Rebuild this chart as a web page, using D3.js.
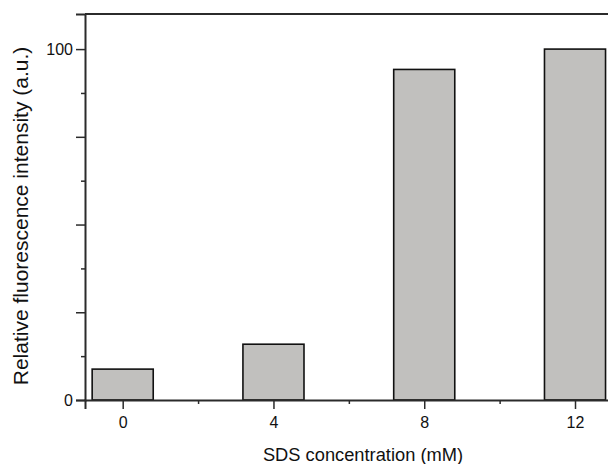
<!DOCTYPE html>
<html><head><meta charset="utf-8">
<script src="https://cdn.jsdelivr.net/npm/d3@7"></script>
<style>body{margin:0;background:#fff}svg{display:block;font-family:"Liberation Sans",Arial,sans-serif}</style>
</head><body><svg id="c" width="608" height="464"></svg>
<script>
const concentrations = [0, 4, 8, 12];
const intensity = [8.8, 15.9, 94.2, 100];
const xTickValues = [0, 4, 8, 12];
const xMinorTicks = [2, 6, 10];
const yMajorTicks = [0, 25, 50, 75, 100];
const yMinorTicks = [12.5, 37.5, 62.5, 87.5];
const yLabeled = [0, 100];

const svg = d3.select("#c");
const L = 85, R = 612.7, T = 14, B = 400;
const x = d3.scaleLinear().domain([-1, 13]).range([L, R]);
const y = d3.scaleLinear().domain([0, 110]).range([B, T]);
const barW = x(1.62) - x(0);

svg.selectAll("rect.bar").data(concentrations).join("rect")
  .attr("class","bar")
  .attr("x", (d)=>x(d)-barW/2)
  .attr("y", (d,i)=>y(intensity[i]))
  .attr("width", barW)
  .attr("height", (d,i)=>y(0)-y(intensity[i]))
  .attr("fill","#c1c0be").attr("stroke","#111").attr("stroke-width",1.6);

const axisColor = "#2b2b2b";
svg.append("line").attr("x1",L).attr("x2",R).attr("y1",T).attr("y2",T).attr("stroke",axisColor).attr("stroke-width",2);

svg.append("g").attr("transform",`translate(0,${B})`)
  .call(d3.axisBottom(x).tickValues(xTickValues).tickSize(9).tickPadding(8).tickFormat(d3.format("d")));
svg.append("g").attr("transform",`translate(0,${B})`)
  .call(d3.axisBottom(x).tickValues(xMinorTicks).tickSize(4).tickFormat(""))
  .call(g=>g.select(".domain").remove());
svg.append("g").attr("transform",`translate(${L},0)`)
  .call(d3.axisLeft(y).tickValues(yMajorTicks).tickSize(9).tickPadding(3)
    .tickFormat(d=>yLabeled.includes(d)?d3.format("d")(d):""));
svg.append("g").attr("transform",`translate(${L},0)`)
  .call(d3.axisLeft(y).tickValues(yMinorTicks).tickSize(4).tickFormat(""))
  .call(g=>g.select(".domain").remove());

svg.selectAll(".domain").attr("stroke",axisColor).attr("stroke-width",2);
svg.selectAll(".tick line").attr("stroke",axisColor).attr("stroke-width",1.5);
svg.selectAll(".tick text").attr("font-size",16).attr("fill","#111")
  .attr("font-family","'Liberation Sans',Arial,sans-serif");

svg.append("text").attr("x",363).attr("y",461).attr("text-anchor","middle")
  .attr("font-size",18.3).attr("fill","#111").text("SDS concentration (mM)");
svg.append("text").attr("transform","translate(28,216) rotate(-90)").attr("text-anchor","middle")
  .attr("font-size",21).attr("fill","#111").text("Relative fluorescence intensity (a.u.)");
</script></body></html>
